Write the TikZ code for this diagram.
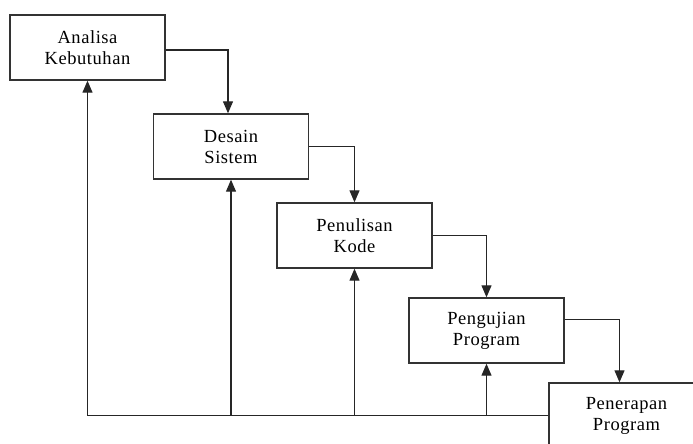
\documentclass[tikz,border=0pt]{standalone}
\usepackage{fontspec}
\setmainfont[LetterSpace=3]{Liberation Serif}
\usetikzlibrary{arrows.meta}
\begin{document}
\begin{tikzpicture}[x=1pt, y=-1pt,
    every node/.style={font=\fontsize{18.5}{21}\selectfont},
    tahap/.style={draw=black!80, line width=1.4pt, fill=white, minimum width=155pt,
        minimum height=65pt, align=center, inner sep=0pt},
    alur/.style={-{Triangle[length=12pt,width=10pt]}, line width=1.2pt, black!85}]
    \useasboundingbox (0,0) rectangle (693,444);
    % tahapan
    \node[tahap] (a1) at (87.5,47.5) {Analisa\\Kebutuhan};
    \node[tahap] (a2) at (231,146.5) {Desain\\Sistem};
    \node[tahap] (a3) at (354.5,235.5) {Penulisan\\Kode};
    \node[tahap] (a4) at (486.5,330.5) {Pengujian\\Program};
    \node[tahap] (a5) at (626.5,415.5) {Penerapan\\Program};
    % alur turun
    \draw[alur] ([yshift=-2.5]a1.east) -| ([xshift=-3]a2.north);
    \draw[alur] (a2.east) -| (a3.north);
    \draw[alur] (a3.east) -| (a4.north);
    \draw[alur] ([yshift=11]a4.east) -| ([xshift=-7]a5.north);
    % umpan balik
    \draw[alur] (a5.west) -| (a1.south);
    \foreach \i in {2,3,4}{
        \draw[alur] (a\i.south |- a5.west) -- (a\i.south);
    }
\end{tikzpicture}
\end{document}
